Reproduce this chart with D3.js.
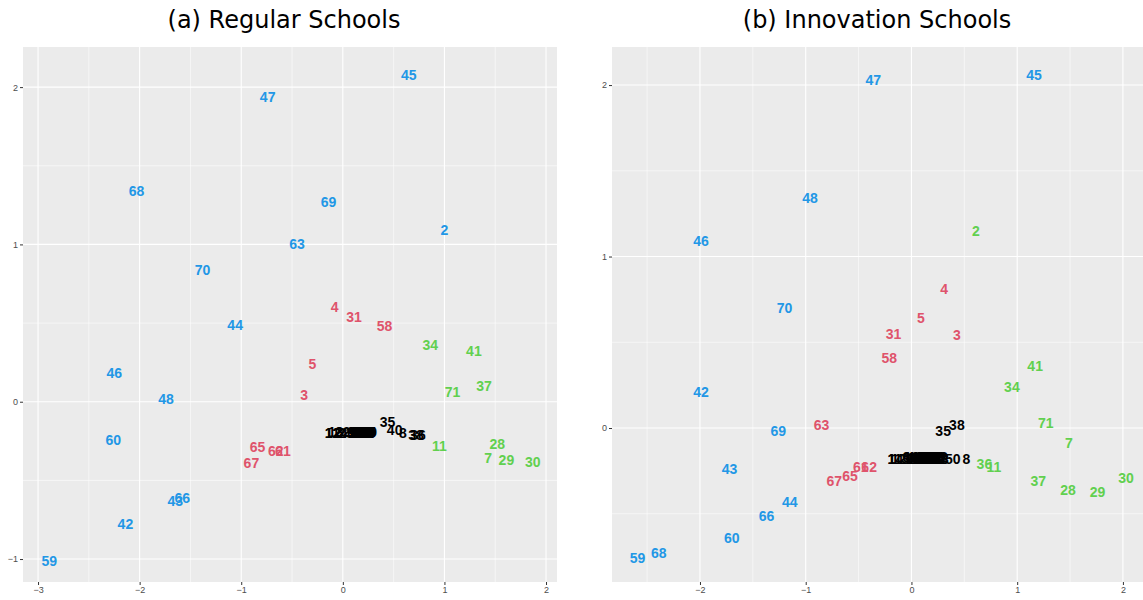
<!DOCTYPE html>
<html>
<head>
<meta charset="utf-8">
<script src="https://cdn.jsdelivr.net/npm/d3@7"></script>
<style>
body { margin: 0; background: #fff; }
</style>
</head>
<body>
<script>
// tick values
var regXTicks = [-3, -2, -1, 0, 1, 2];
var regYTicks = [-1, 0, 1, 2];
var innXTicks = [-2, -1, 0, 1, 2];
var innYTicks = [0, 1, 2];

// cluster colours (0 black, 1 red, 2 green, 3 blue)
var clusterColors = ["#000000", "#DF536B", "#61D04F", "#2297E6"];

// (a) Regular Schools
var regLabel = [45, 47, 68, 69, 2, 63, 70, 44, 46, 48, 60, 66, 43, 42, 59,
    4, 31, 58, 5, 3, 65, 62, 61, 67,
    34, 41, 37, 71, 11, 28, 7, 29, 30,
    35, 40, 8, 38, 36, 1, 12, 13, 14, 22, 23, 6, 9, 10, 15, 16, 17, 18, 19, 20, 21,
    24, 25, 26, 27, 32, 33, 39, 49, 50, 51, 52, 53, 54, 55, 56, 57, 64];
var regX = [0.65, -0.74, -2.03, -0.14, 1.00, -0.45, -1.38, -1.06, -2.25, -1.74, -2.26, -1.58, -1.65, -2.14, -2.89,
    -0.08, 0.11, 0.41, -0.30, -0.38, -0.84, -0.66, -0.59, -0.90,
    0.86, 1.29, 1.39, 1.08, 0.95, 1.52, 1.43, 1.61, 1.87,
    0.44, 0.51, 0.59, 0.72, 0.74, -0.14, -0.10, -0.07, -0.03, 0.00, 0.03, 0.08, 0.10, 0.12, 0.13, 0.14, 0.15, 0.16, 0.17, 0.18, 0.19,
    0.20, 0.21, 0.22, 0.22, 0.23, 0.24, 0.24, 0.25, 0.26, 0.17, 0.19, 0.21, 0.23, 0.25, 0.14, 0.16, 0.20];
var regY = [2.08, 1.94, 1.34, 1.27, 1.09, 1.00, 0.84, 0.49, 0.18, 0.02, -0.24, -0.61, -0.63, -0.78, -1.01,
    0.60, 0.54, 0.48, 0.24, 0.04, -0.29, -0.31, -0.31, -0.39,
    0.36, 0.32, 0.10, 0.06, -0.28, -0.27, -0.36, -0.37, -0.38,
    -0.13, -0.18, -0.20, -0.21, -0.21, -0.20, -0.20, -0.19, -0.20, -0.19, -0.20, -0.19, -0.20, -0.19, -0.20, -0.19, -0.20, -0.19, -0.20, -0.19, -0.20,
    -0.19, -0.20, -0.19, -0.20, -0.19, -0.20, -0.19, -0.20, -0.19, -0.19, -0.19, -0.19, -0.20, -0.19, -0.20, -0.20, -0.20];
var regCluster = [3, 3, 3, 3, 3, 3, 3, 3, 3, 3, 3, 3, 3, 3, 3,
    1, 1, 1, 1, 1, 1, 1, 1, 1,
    2, 2, 2, 2, 2, 2, 2, 2, 2,
    0, 0, 0, 0, 0, 0, 0, 0, 0, 0, 0, 0, 0, 0, 0, 0, 0, 0, 0, 0, 0,
    0, 0, 0, 0, 0, 0, 0, 0, 0, 0, 0, 0, 0, 0, 0, 0, 0];

// (b) Innovation Schools
var innLabel = [47, 45, 48, 46, 70, 42, 69, 43, 44, 66, 60, 68, 59,
    4, 5, 31, 3, 58, 63, 62, 61, 65, 67,
    2, 41, 34, 71, 7, 36, 11, 37, 28, 29, 30,
    38, 35, 8, 50, 1, 14, 12, 13, 6, 9, 10, 15, 16, 17, 18, 19, 20, 21, 22, 23,
    24, 25, 26, 27, 32, 33, 39, 40, 49, 51, 52, 53, 54, 55, 56, 57, 64];
var innX = [-0.36, 1.16, -0.96, -1.99, -1.20, -1.99, -1.26, -1.72, -1.15, -1.37, -1.70, -2.39, -2.59,
    0.31, 0.09, -0.17, 0.43, -0.21, -0.85, -0.40, -0.48, -0.58, -0.73,
    0.61, 1.17, 0.95, 1.27, 1.49, 0.69, 0.78, 1.20, 1.48, 1.76, 2.03,
    0.43, 0.30, 0.52, 0.39, -0.19, -0.15, -0.12, -0.09, -0.05, -0.02, 0.00, 0.02, 0.04, 0.06, 0.08, 0.10, 0.11, 0.13, 0.14, 0.16,
    0.17, 0.18, 0.19, 0.20, 0.21, 0.22, 0.23, 0.24, 0.25, 0.26, 0.27, 0.28, 0.05, 0.09, 0.12, 0.15, 0.18];
var innY = [2.03, 2.06, 1.34, 1.09, 0.70, 0.21, -0.02, -0.24, -0.43, -0.51, -0.64, -0.73, -0.76,
    0.81, 0.64, 0.55, 0.54, 0.41, 0.02, -0.23, -0.23, -0.28, -0.31,
    1.15, 0.36, 0.24, 0.03, -0.09, -0.21, -0.23, -0.31, -0.36, -0.37, -0.29,
    0.02, -0.02, -0.18, -0.18, -0.18, -0.18, -0.18, -0.18, -0.17, -0.18, -0.17, -0.18, -0.17, -0.18, -0.17, -0.18, -0.17, -0.18, -0.17, -0.18,
    -0.17, -0.18, -0.17, -0.18, -0.17, -0.18, -0.17, -0.18, -0.17, -0.18, -0.17, -0.18, -0.18, -0.18, -0.18, -0.17, -0.17];
var innCluster = [3, 3, 3, 3, 3, 3, 3, 3, 3, 3, 3, 3, 3,
    1, 1, 1, 1, 1, 1, 1, 1, 1, 1,
    2, 2, 2, 2, 2, 2, 2, 2, 2, 2, 2,
    0, 0, 0, 0, 0, 0, 0, 0, 0, 0, 0, 0, 0, 0, 0, 0, 0, 0, 0, 0,
    0, 0, 0, 0, 0, 0, 0, 0, 0, 0, 0, 0, 0, 0, 0, 0, 0];

var width = 1143, height = 600;

var svg = d3.select("body")
    .append("svg")
    .attr("width", width)
    .attr("height", height);

var color = d3.scaleOrdinal().domain([0, 1, 2, 3]).range(clusterColors);

//draw one labelled scatter panel
function drawPanel(opt){
    var x = d3.scaleLinear().domain(opt.xDomain).range([opt.left, opt.right]);
    var y = d3.scaleLinear().domain(opt.yDomain).range([opt.bottom, opt.top]);

    var g = svg.append("g");

    //title
    svg.append("text")
        .attr("x", opt.titleX)
        .attr("y", 28)
        .attr("text-anchor", "middle")
        .style("font-family", "'DejaVu Sans', sans-serif")
        .style("font-size", "24px")
        .style("fill", "#000")
        .text(opt.title);

    //panel background
    g.append("rect")
        .attr("x", opt.left)
        .attr("y", opt.top)
        .attr("width", opt.right - opt.left)
        .attr("height", opt.bottom - opt.top)
        .attr("fill", "#EBEBEB");

    //minor grid at the half steps
    var xMinor = opt.xTicks.map(function(t){ return t + 0.5; })
        .concat([opt.xTicks[0] - 0.5])
        .filter(function(t){ return t > opt.xDomain[0] && t < opt.xDomain[1]; });
    var yMinor = opt.yTicks.map(function(t){ return t + 0.5; })
        .concat([opt.yTicks[0] - 0.5])
        .filter(function(t){ return t > opt.yDomain[0] && t < opt.yDomain[1]; });

    g.selectAll(".xminor").data(xMinor).enter().append("line")
        .attr("x1", function(d){ return x(d); }).attr("x2", function(d){ return x(d); })
        .attr("y1", opt.top).attr("y2", opt.bottom)
        .attr("stroke", "#fff").attr("stroke-width", 0.55);
    g.selectAll(".yminor").data(yMinor).enter().append("line")
        .attr("y1", function(d){ return y(d); }).attr("y2", function(d){ return y(d); })
        .attr("x1", opt.left).attr("x2", opt.right)
        .attr("stroke", "#fff").attr("stroke-width", 0.55);

    //major grid
    g.selectAll(".xmajor").data(opt.xTicks).enter().append("line")
        .attr("x1", function(d){ return x(d); }).attr("x2", function(d){ return x(d); })
        .attr("y1", opt.top).attr("y2", opt.bottom)
        .attr("stroke", "#fff").attr("stroke-width", 1.1);
    g.selectAll(".ymajor").data(opt.yTicks).enter().append("line")
        .attr("y1", function(d){ return y(d); }).attr("y2", function(d){ return y(d); })
        .attr("x1", opt.left).attr("x2", opt.right)
        .attr("stroke", "#fff").attr("stroke-width", 1.1);

    //axes
    var fmt = d3.format("d");
    var xAxis = svg.append("g")
        .attr("transform", "translate(0," + opt.bottom + ")")
        .call(d3.axisBottom(x).tickValues(opt.xTicks).tickFormat(fmt).tickSize(3).tickPadding(2));
    var yAxis = svg.append("g")
        .attr("transform", "translate(" + opt.left + ",0)")
        .call(d3.axisLeft(y).tickValues(opt.yTicks).tickFormat(fmt).tickSize(3).tickPadding(2));
    [xAxis, yAxis].forEach(function(a){
        a.select(".domain").remove();
        a.selectAll(".tick line").attr("stroke", "#333333").attr("stroke-width", 1);
        a.selectAll(".tick text")
            .style("font-family", "'Liberation Sans', Arial, sans-serif")
            .style("font-size", "9px")
            .attr("fill", "#4D4D4D");
    });

    //labels
    var pts = opt.labels.map(function(l, i){
        return {label: l, x: opt.xs[i], y: opt.ys[i], c: opt.clusters[i]};
    });
    svg.append("g").selectAll("text")
        .data(pts)
        .enter()
        .append("text")
        .attr("x", function(d){ return x(d.x); })
        .attr("y", function(d){ return y(d.y); })
        .attr("dy", "0.36em")
        .attr("text-anchor", "middle")
        .style("font-family", "'Liberation Sans', Arial, sans-serif")
        .style("font-weight", "bold")
        .style("font-size", "14px")
        .attr("fill", function(d){ return color(d.c); })
        .text(function(d){ return d.label; });
}

drawPanel({
    title: "(a) Regular Schools", titleX: 284,
    left: 23, right: 557, top: 47, bottom: 582,
    xDomain: [-3.148, 2.108], yDomain: [-1.146, 2.255],
    xTicks: regXTicks, yTicks: regYTicks,
    labels: regLabel, xs: regX, ys: regY, clusters: regCluster
});

drawPanel({
    title: "(b) Innovation Schools", titleX: 877,
    left: 612, right: 1143, top: 47, bottom: 582,
    xDomain: [-2.832, 2.19], yDomain: [-0.898, 2.222],
    xTicks: innXTicks, yTicks: innYTicks,
    labels: innLabel, xs: innX, ys: innY, clusters: innCluster
});
</script>
</body>
</html>
